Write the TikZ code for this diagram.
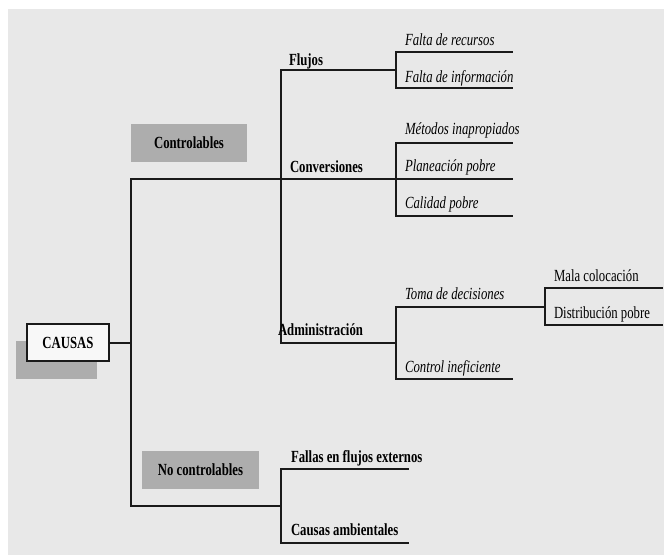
\documentclass[tikz,border=0pt]{standalone}
\usepackage{fontspec}
\setmainfont{Liberation Serif}[FakeStretch=0.75]
\definecolor{pagebg}{HTML}{E8E8E8}
\definecolor{boxgray}{HTML}{ADADAD}
\definecolor{ink}{HTML}{1A1A1A}
\begin{document}
\begin{tikzpicture}[x=1pt,y=-1pt,
  txt/.style={font=\fontsize{17}{19}\selectfont},
  every node/.style={inner sep=0pt,outer sep=0pt,txt},
  branch/.style={draw=ink,line width=1.5pt,line cap=rect},
  hdr/.style={anchor=base west,font=\fontsize{17}{19}\selectfont\bfseries},
  leaf/.style={anchor=base west,font=\fontsize{17}{19}\selectfont\itshape},
  sub/.style={anchor=base west,txt},
  graybox/.style={fill=boxgray,draw=none,minimum width=116pt,minimum height=38pt,font=\fontsize{17}{19}\selectfont\bfseries}]
% page and background
\useasboundingbox (0,0) rectangle (664,555);
\fill[white] (0,0) rectangle (664,555);
\fill[pagebg] (8,9) rectangle (664,555);

% root box with its shadow
\fill[boxgray] (16,341) rectangle (97,379);
\node[draw=ink,line width=1.2pt,fill=white!70!pagebg,minimum width=82pt,minimum height=37pt,
      font=\fontsize{17}{19}\selectfont\bfseries] (causas) at (68,342.5) {CAUSAS};

% category labels
\node[graybox] (ctrl) at (189,143) {Controlables};
\node[graybox,minimum width=117pt] (noctrl) at (200.5,470) {No controlables};

% branch points
\coordinate (r0) at (131,343);
\coordinate (rt) at (131,179);
\coordinate (rb) at (131,506);
\coordinate (c0) at (281,179);
\coordinate (ct) at (281,70);
\coordinate (cb) at (281,343);
\coordinate (n0) at (281,506);
\coordinate (nt) at (281,469);
\coordinate (nb) at (281,543);
\coordinate (f0) at (396,70);
\coordinate (ft) at (396,52);
\coordinate (fb) at (396,88);
\coordinate (v0) at (396,179);
\coordinate (vt) at (396,143);
\coordinate (vb) at (396,216);
\coordinate (a0) at (396,343);
\coordinate (at) at (396,307);
\coordinate (ab) at (396,379);
\coordinate (d0) at (545,307);
\coordinate (dt) at (545,288);
\coordinate (db) at (545,325);
% line ends
\coordinate (fte) at (512,52);
\coordinate (fbe) at (512,88);
\coordinate (vte) at (512,143);
\coordinate (v0e) at (512,179);
\coordinate (vbe) at (512,216);
\coordinate (abe) at (512,379);
\coordinate (dte) at (662,288);
\coordinate (dbe) at (662,325);
\coordinate (nte) at (408,469);
\coordinate (nbe) at (408,543);

% connectors
\draw[branch] (causas.east |- r0) -- (r0);
\draw[branch] (rt) -- (rb);
\draw[branch] (rt) -- (v0);
\draw[branch] (ct) -- (cb);
\draw[branch] (ct) -- (f0);
\draw[branch] (cb) -- (a0);
\draw[branch] (rb) -- (n0);
\draw[branch] (nt) -- (nb);
\draw[branch] (nt) -- (nte);
\draw[branch] (nb) -- (nbe);
\draw[branch] (ft) -- (fb);
\draw[branch] (ft) -- (fte);
\draw[branch] (fb) -- (fbe);
\draw[branch] (vt) -- (vb);
\draw[branch] (vt) -- (vte);
\draw[branch] (v0) -- (v0e);
\draw[branch] (vb) -- (vbe);
\draw[branch] (at) -- (ab);
\draw[branch] (at) -- (d0);
\draw[branch] (ab) -- (abe);
\draw[branch] (dt) -- (db);
\draw[branch] (dt) -- (dte);
\draw[branch] (db) -- (dbe);

% labels
\node[hdr] (flujos) at (289,65) {Flujos};
\node[hdr] (conv) at (290,172) {Conversiones};
\node[hdr] (adm) at (278,335) {Administración};
\node[hdr] (fallas) at (291,462) {Fallas en flujos externos};
\node[hdr] (amb) at (291,535) {Causas ambientales};
\node[leaf] (rec) at (405,45) {Falta de recursos};
\node[leaf] (inf) at (405,82) {Falta de información};
\node[leaf] (met) at (405,134) {Métodos inapropiados};
\node[leaf] (plan) at (405,171) {Planeación pobre};
\node[leaf] (cal) at (405,208) {Calidad pobre};
\node[leaf] (toma) at (405,299) {Toma de decisiones};
\node[leaf] (ctl) at (405,372) {Control ineficiente};
\node[sub] (mala) at (554,281) {Mala colocación};
\node[sub] (dist) at (554,318) {Distribución pobre};
\end{tikzpicture}
\end{document}
